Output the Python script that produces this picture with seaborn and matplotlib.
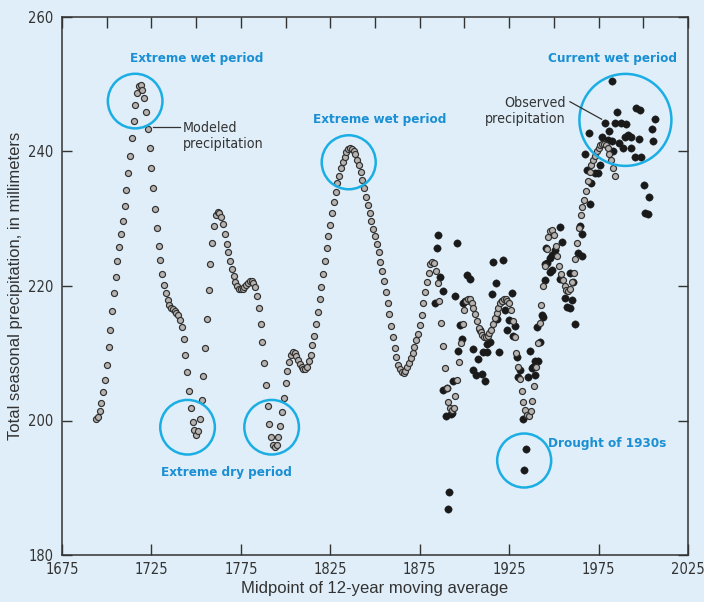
import matplotlib
matplotlib.use("Agg")
import matplotlib.pyplot as plt
from matplotlib.patches import Ellipse
import numpy as np
import pandas as pd
import seaborn as sns

# ---------------- data ----------------
model_start_year = 1694
model_values = [
    200.2, 200.5, 201.4, 202.6, 204.2, 206.0,
    208.2, 211.0, 213.4, 216.3, 218.9, 221.4, 223.7, 225.8, 227.7, 229.7,
    231.9, 234.3, 236.8, 239.4, 242.0, 244.6, 246.9, 248.7, 249.7, 249.9,
    249.2, 247.9, 245.9, 243.3, 240.5, 237.5, 234.5, 231.5, 228.6, 226.0,
    223.8, 221.8, 220.2, 218.9, 217.9, 217.2, 216.8, 216.6, 216.3, 216.0,
    215.7, 215.0, 213.9, 212.1, 209.8, 207.2, 204.4, 201.8, 199.8, 198.6,
    197.8, 198.5, 200.2, 203.0, 206.6, 210.8, 215.1, 219.4, 223.3, 226.4,
    228.9, 230.6, 231.0, 230.9, 230.3, 229.2, 227.8, 226.3, 225.0, 223.7,
    222.5, 221.5, 220.6, 220.0, 219.6, 219.5, 219.6, 219.9, 220.2, 220.5,
    220.7, 220.8, 220.5, 219.8, 218.5, 216.8, 214.4, 211.6, 208.6, 205.3,
    202.2, 199.5, 197.5, 196.4, 196.1, 196.3, 197.5, 199.2, 201.3, 203.4,
    205.6, 207.4, 208.7, 209.8, 210.2, 210.1, 209.6, 209.0, 208.4, 207.9,
    207.6, 207.7, 208.0, 208.9, 209.8, 211.2, 212.6, 214.4, 216.2, 218.0,
    219.9, 221.8, 223.7, 225.6, 227.4, 229.1, 230.8, 232.5, 234.0, 235.3,
    236.4, 237.5, 238.4, 239.2, 239.9, 240.3, 240.5, 240.3, 240.0, 239.6,
    238.8, 238.0, 237.0, 235.8, 234.5, 233.3, 232.0, 230.8, 229.7, 228.5,
    227.4, 226.2, 225.0, 223.6, 222.2, 220.8, 219.1, 217.5, 215.9, 214.1,
    212.4, 210.8, 209.5, 208.3, 207.6, 207.2, 207.1, 207.3, 207.9, 208.6,
    209.3, 210.1, 211.0, 211.9, 212.9, 214.2, 215.7, 217.4, 219.1, 220.6,
    222.0, 223.2, 223.6, 223.4, 222.2, 220.4, 217.7, 214.5, 211.1, 207.8,
    204.8, 202.8, 201.9, 201.6, 201.9, 203.6, 206.0, 208.7, 211.5, 214.3,
    216.5, 217.7, 218.1, 218.0, 217.5, 216.8, 215.8, 214.8, 213.8, 213.1,
    212.7, 212.4, 212.4, 212.6, 213.0, 213.5, 214.3, 215.2, 216.0, 216.8,
    217.4, 217.8, 218.0, 218.0, 217.8, 217.4, 216.5, 214.8, 212.4, 210.0,
    208.0, 206.2, 204.4, 202.8, 201.6, 200.8, 200.6, 201.4, 202.9, 205.2,
    208.0, 211.5, 214.5, 217.2, 220.0, 223.0, 225.5, 227.3, 228.2, 228.3,
    227.6, 226.0, 224.4, 222.9, 221.8, 220.9, 220.0, 219.4, 219.2, 219.5,
    220.6, 222.0, 224.0, 226.4, 228.6, 230.6, 231.8, 232.8, 234.2, 235.6,
    236.9, 238.0, 238.7, 239.4, 240.0, 240.5, 240.9, 241.1, 241.1, 240.9,
    240.5, 239.7, 238.8, 237.6, 236.4,
]
model_years = list(range(model_start_year, model_start_year + len(model_values)))

obs_years = [
    1883.5, 1884.8, 1885.3, 1886.3, 1887.8, 1888.1, 1890.0, 1889.5, 1890.6, 1891.5,
    1892.3, 1893.2, 1893.7, 1894.7, 1895.6, 1896.5, 1897.5, 1898.4, 1899.3, 1900.3,
    1901.2, 1902.1, 1903.1, 1904.6, 1904.9, 1906.4, 1907.7, 1908.7, 1909.6, 1910.5,
    1911.4, 1912.4, 1912.7, 1914.2, 1915.2, 1916.1, 1917.6, 1918.3, 1919.4, 1920.8,
    1921.3, 1922.6, 1923.6, 1925.0, 1926.4, 1927.3, 1928.2, 1929.2, 1930.1, 1931.0,
    1932.5, 1933.4, 1934.4, 1935.6, 1936.6, 1937.6, 1938.5, 1939.4, 1939.4, 1940.3,
    1941.2, 1942.2, 1943.1, 1944.0, 1945.0, 1945.0, 1945.5, 1946.3, 1947.8, 1947.8,
    1948.7, 1948.7, 1950.6, 1953.4, 1954.3, 1953.4, 1956.2, 1957.1, 1957.1, 1959.0,
    1959.0, 1959.9, 1960.8, 1961.8, 1963.6, 1964.6, 1965.5, 1965.5, 1967.3, 1968.6,
    1969.8, 1970.1, 1970.5, 1972.9, 1974.8, 1975.7, 1976.7, 1978.5, 1980.4, 1981.0,
    1982.3, 1982.3, 1983.2, 1984.1, 1985.4, 1986.5, 1987.8, 1988.7, 1989.7, 1990.6,
    1991.5, 1993.4, 1993.4, 1995.3, 1996.2, 1997.6, 1998.0, 1999.0, 2000.3, 2000.9,
    2002.7, 2003.3, 2004.6, 2005.5, 2006.4,
]
obs_values = [
    217.4, 225.7, 227.6, 221.4, 219.2, 204.5, 204.8, 200.6, 186.8, 189.4,
    201.0, 201.1, 205.9, 218.5, 226.4, 210.4, 214.2, 212.1, 217.4, 217.7,
    221.6, 217.9, 221.0, 207.5, 210.7, 206.8, 209.1, 213.5, 206.9, 210.2,
    205.9, 211.4, 210.2, 211.7, 218.8, 223.6, 220.5, 215.1, 210.2, 217.8,
    223.8, 216.5, 213.5, 214.9, 218.9, 212.6, 214.1, 209.5, 206.5, 207.5,
    200.2, 192.6, 195.8, 206.5, 210.4, 207.8, 208.0, 206.8, 208.8, 213.9,
    208.8, 211.7, 215.7, 215.4, 220.9, 223.3, 225.6, 223.4, 224.1, 222.1,
    224.6, 222.4, 225.4, 228.8, 226.6, 221.1, 218.2, 219.4, 216.9, 221.9,
    216.7, 217.9, 220.6, 214.4, 224.9, 228.9, 227.8, 224.4, 239.6, 237.2,
    242.7, 232.2, 235.3, 236.8, 236.8, 238.0, 242.1, 244.3, 241.7, 243.1,
    250.5, 241.5, 240.0, 244.2, 245.8, 241.2, 244.3, 240.5, 242.2, 244.1,
    242.5, 242.1, 240.5, 239.2, 246.4, 241.9, 246.2, 239.2, 235.0, 230.9,
    230.7, 233.3, 243.3, 241.6, 244.8,
]

x_ticks = [1675, 1725, 1775, 1825, 1875, 1925, 1975, 2025]
x_minor_top = [1700, 1750, 1800, 1850, 1900, 1950, 2000]
y_ticks = [180, 200, 220, 240, 260]

# ---------------- style ----------------
BG = "#dfeef8"
CYAN = "#1baee4"
BLUE_TXT = "#1a8fd3"
DARK = "#333333"
NARROW = ["DejaVu Sans"]
REG = ["Liberation Sans", "DejaVu Sans"]
COND = dict(family=NARROW, stretch="condensed")

fig = plt.figure(figsize=(7.04, 6.02), dpi=100, facecolor=BG)
ax = fig.add_axes([62 / 704, 47 / 602, 626 / 704, 538 / 602])
ax.set_facecolor(BG)

df_obs = pd.DataFrame({"year": obs_years, "value": obs_values})
df_mod = pd.DataFrame({"year": model_years, "value": model_values})

sns.scatterplot(data=df_obs, x="year", y="value", ax=ax, color="#1a1a1a",
                s=28, edgecolor="#1a1a1a", linewidth=0.3, legend=False, zorder=3)
sns.scatterplot(data=df_mod, x="year", y="value", ax=ax, color="#b7b3b0",
                s=19, edgecolor="#303030", linewidth=0.85, legend=False, zorder=4)

ax.set_xlim(1675, 2025)
ax.set_ylim(180, 260)
ax.set_xticks(x_ticks)
ax.set_xticks(x_minor_top, minor=True)
ax.set_yticks(y_ticks)
ax.set_xticklabels([str(t) for t in x_ticks])
ax.set_yticklabels([str(t) for t in y_ticks])

ax.tick_params(axis="x", which="major", direction="in", length=8, width=1.0,
               color=DARK, top=True, bottom=True, pad=5, labelsize=10.5,
               labelcolor=DARK)
ax.tick_params(axis="x", which="minor", direction="in", length=8, width=1.0,
               color=DARK, top=True, bottom=False)
ax.tick_params(axis="y", which="major", direction="in", length=7.5, width=1.0,
               color=DARK, left=True, right=True, pad=6, labelsize=10.5,
               labelcolor=DARK)
for lab in ax.get_xticklabels() + ax.get_yticklabels():
    lab.set_family(NARROW)
    lab.set_stretch("condensed")

for sp in ax.spines.values():
    sp.set_color(DARK)
    sp.set_linewidth(1.1)

ax.set_xlabel("Midpoint of 12-year moving average", family=REG, fontsize=12,
              color=DARK, labelpad=3)
ax.set_ylabel("Total seasonal precipitation, in millimeters", family=REG,
              fontsize=12, color=DARK, labelpad=4)

# ---------------- annotations ----------------
px_per_year = 626 / 350
px_per_unit = 538 / 80


def ring(xc, yc, r_px):
    e = Ellipse((xc, yc), width=2 * r_px / px_per_year,
                height=2 * r_px / px_per_unit, fill=False,
                edgecolor=CYAN, linewidth=1.8, zorder=5)
    ax.add_patch(e)


ring(1715.9, 247.5, 27.3)
ring(1835.3, 238.4, 27.0)
ring(1990.0, 244.7, 46.0)
ring(1745.2, 199.0, 27.3)
ring(1792.2, 199.0, 27.3)
ring(1933.4, 194.05, 27.0)

tkw = dict(COND, fontsize=9.6, fontweight="bold", color=BLUE_TXT,
           ha="center", va="center", zorder=6)
ax.text(1750.5, 253.9, "Extreme wet period", **tkw)
ax.text(1852.8, 244.8, "Extreme wet period", **tkw)
ax.text(1983.0, 253.9, "Current wet period", **tkw)
ax.text(1767.2, 192.2, "Extreme dry period", **tkw)
ax.text(1979.9, 196.65, "Drought of 1930s", **tkw)

ax.text(1742.6, 242.3, "Modeled\nprecipitation", **COND, fontsize=10.2,
        color=DARK, ha="left", va="center", linespacing=1.15, zorder=6)
ax.plot([1725.9, 1741.0], [243.65, 243.65], color=DARK, linewidth=0.9, zorder=6)

ax.text(1956.7, 246.0, "Observed\nprecipitation", **COND, fontsize=10.2,
        color=DARK, ha="right", va="center", linespacing=1.15, zorder=6)
ax.plot([1959.0, 1976.7], [247.4, 244.8], color=DARK, linewidth=0.9, zorder=6)

fig.savefig("out.png", dpi=100, facecolor=BG)
